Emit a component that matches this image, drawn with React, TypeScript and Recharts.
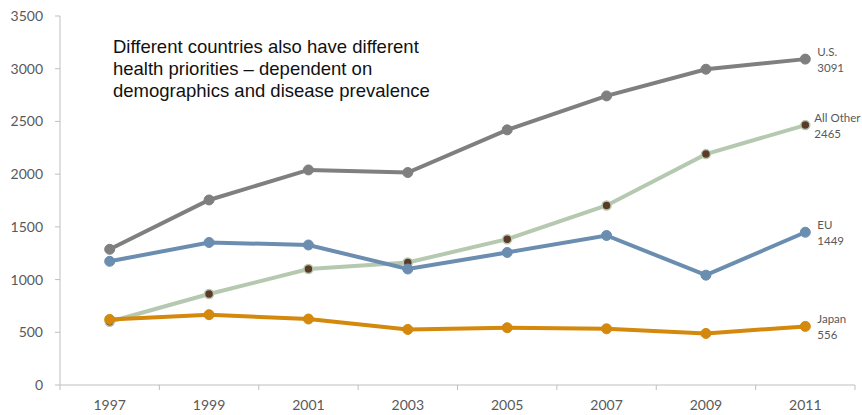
import React from 'react';
import { LineChart, Line, XAxis, YAxis, LabelList } from 'recharts';

const years = ['1997', '1999', '2001', '2003', '2005', '2007', '2009', '2011'];
const usValues = [1287, 1755, 2040, 2015, 2420, 2742, 2995, 3091];
const allOtherValues = [600, 863, 1100, 1162, 1383, 1703, 2190, 2465];
const euValues = [1173, 1352, 1328, 1100, 1257, 1418, 1042, 1449];
const japanValues = [622, 667, 626, 527, 543, 533, 489, 556];
const yTicks = [0, 500, 1000, 1500, 2000, 2500, 3000, 3500];
const seriesNames = { us: 'U.S.', allOther: 'All Other', eu: 'EU', japan: 'Japan' };
const annotationLines = [
  'Different countries also have different',
  'health priorities \u2013 dependent on',
  'demographics and disease prevalence',
];

const data = years.map((year, i) => ({
  year,
  us: usValues[i],
  allOther: allOtherValues[i],
  eu: euValues[i],
  japan: japanValues[i],
}));

const W = 862;
const H = 415;
const M = { top: 16, right: 7, bottom: 0, left: 0 };
const Y_W = 60;
const X_H = 30;
const BAND = (W - M.left - M.right - Y_W) / years.length;
const AXIS_COLOR = '#bfbfbf';
const TEXT_COLOR = '#595959';
const FONT = 'Lato, "Open Sans", sans-serif';

const XTick = (props: any) => {
  const { x, y, payload, index } = props;
  const last = index === years.length - 1;
  return (
    <g>
      <line x1={x - BAND / 2} x2={x - BAND / 2} y1={y} y2={y + 5} stroke={AXIS_COLOR} />
      {last && <line x1={x + BAND / 2} x2={x + BAND / 2} y1={y} y2={y + 5} stroke={AXIS_COLOR} />}
      <text x={x} y={y + 25} textAnchor="middle" fill={TEXT_COLOR} fontSize={14} fontFamily={FONT}>
        {payload.value}
      </text>
    </g>
  );
};

const makeEndLabel = (name: string, dx: number) => (props: any) => {
  const { x, y, value, index } = props;
  if (index !== years.length - 1) return null;
  return (
    <text x={x + dx} fill={TEXT_COLOR} fontSize={11.5} fontFamily={FONT}>
      <tspan x={x + dx} y={y - 3}>{name}</tspan>
      <tspan x={x + dx} y={y + 13}>{value}</tspan>
    </text>
  );
};

export default function App() {
  return (
    <div style={{ position: 'absolute', left: 0, top: 0, width: W, height: H, background: '#fff' }}>
      <LineChart width={W} height={H} data={data} margin={M}>
        <XAxis
          dataKey="year"
          height={X_H}
          stroke={AXIS_COLOR}
          tickLine={false}
          tickSize={0}
          tickMargin={0}
          tick={<XTick />}
          interval={0}
          padding={{ left: BAND / 2, right: BAND / 2 }}
        />
        <YAxis
          width={Y_W}
          domain={[0, 3500]}
          ticks={yTicks}
          stroke={AXIS_COLOR}
          tickSize={5}
          tickMargin={12}
          tick={{ fill: TEXT_COLOR, fontSize: 14, fontFamily: FONT }}
        />
        <Line
          dataKey="allOther"
          name={seriesNames.allOther}
          stroke="#b5c8b0"
          strokeWidth={4}
          dot={{ r: 4.5, fill: '#5b3b28', stroke: '#b5c8b0', strokeWidth: 1.5 }}
          isAnimationActive={false}
        >
          <LabelList dataKey="allOther" content={makeEndLabel(seriesNames.allOther, 9)} />
        </Line>
        <Line
          dataKey="us"
          name={seriesNames.us}
          stroke="#7f7f7f"
          strokeWidth={4}
          dot={{ r: 5, fill: '#7f7f7f', stroke: '#7f7f7f', strokeWidth: 1 }}
          isAnimationActive={false}
        >
          <LabelList dataKey="us" content={makeEndLabel(seriesNames.us, 12)} />
        </Line>
        <Line
          dataKey="eu"
          name={seriesNames.eu}
          stroke="#6a8db0"
          strokeWidth={4}
          dot={{ r: 5, fill: '#6a8db0', stroke: '#6a8db0', strokeWidth: 1 }}
          isAnimationActive={false}
        >
          <LabelList dataKey="eu" content={makeEndLabel(seriesNames.eu, 12)} />
        </Line>
        <Line
          dataKey="japan"
          name={seriesNames.japan}
          stroke="#d4880c"
          strokeWidth={4}
          dot={{ r: 5, fill: '#d4880c', stroke: '#d4880c', strokeWidth: 1 }}
          isAnimationActive={false}
        >
          <LabelList dataKey="japan" content={makeEndLabel(seriesNames.japan, 12)} />
        </Line>
      </LineChart>
      <div
        style={{
          position: 'absolute',
          left: 113,
          top: 36,
          fontFamily: '"Liberation Sans", Arial, sans-serif',
          fontSize: 18.5,
          lineHeight: '22px',
          color: '#111',
          whiteSpace: 'nowrap',
        }}
      >
        {annotationLines.map((l) => (
          <div key={l}>{l}</div>
        ))}
      </div>
    </div>
  );
}
